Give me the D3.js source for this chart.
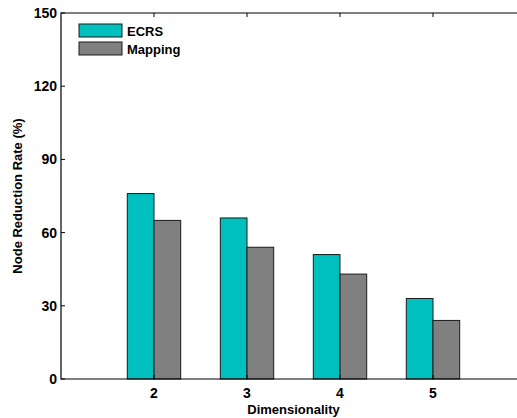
<!DOCTYPE html>
<html>
<head>
<meta charset="utf-8">
<script src="https://cdn.jsdelivr.net/npm/d3@7"></script>
<style>
  body { margin: 0; background: #fff; }
  svg { display: block; font-family: "Liberation Sans", Arial, sans-serif; font-weight: bold; }
</style>
</head>
<body>
<div id="container"></div>
<script>
// chart data
const dims = [2, 3, 4, 5];
const ecrs = [76, 66, 51, 33];
const mapping = [65, 54, 43, 24];
const yTicks = [0, 30, 60, 90, 120, 150];
const seriesNames = ["ECRS", "Mapping"];
const seriesColors = ["#00bfbf", "#808080"];

const width = 517, height = 418;
const plotLeft = 61, plotTop = 13, plotBottom = 379;

const svg = d3.select("#container").append("svg")
    .attr("width", width)
    .attr("height", height);

// x spans 1..6 in data units; the right edge falls outside the window
const x = d3.scaleLinear().domain([1, 6]).range([plotLeft, plotLeft + 5 * 93]);
const y = d3.scaleLinear().domain([0, 150]).range([plotBottom, plotTop]);
const barW = 0.287; // in x units

const series = [ecrs, mapping];

series.forEach((vals, s) => {
  svg.append("g")
    .selectAll("rect")
    .data(vals)
    .join("rect")
      .attr("x", (d, i) => x(dims[i] - barW + s * barW))
      .attr("y", d => y(d))
      .attr("width", x(1 + barW) - x(1))
      .attr("height", d => y(0) - y(d))
      .attr("fill", seriesColors[s])
      .attr("stroke", "#1a1a1a")
      .attr("stroke-width", 1);
});

// axes box
const xMax = x.range()[1];
svg.append("path")
    .attr("d", `M${xMax},${plotTop}H${plotLeft}V${plotBottom}H${xMax}`)
    .attr("fill", "none")
    .attr("stroke", "#000")
    .attr("stroke-width", 1.2);

// y ticks (inside) and labels
const yAxis = svg.append("g");
yAxis.selectAll("line")
  .data(yTicks)
  .join("line")
    .attr("x1", plotLeft).attr("x2", plotLeft + 4)
    .attr("y1", d => y(d)).attr("y2", d => y(d))
    .attr("stroke", "#000");
yAxis.selectAll("text")
  .data(yTicks)
  .join("text")
    .attr("x", plotLeft - 4)
    .attr("y", d => y(d))
    .attr("dy", "0.36em")
    .attr("text-anchor", "end")
    .attr("font-size", 14)
    .text(d => d);

// x ticks on bottom and top, labels
const xAxis = svg.append("g");
xAxis.selectAll("line.b")
  .data(dims)
  .join("line")
    .attr("class", "b")
    .attr("x1", d => x(d)).attr("x2", d => x(d))
    .attr("y1", plotBottom).attr("y2", plotBottom - 4)
    .attr("stroke", "#000");
xAxis.selectAll("line.t")
  .data(dims)
  .join("line")
    .attr("class", "t")
    .attr("x1", d => x(d)).attr("x2", d => x(d))
    .attr("y1", plotTop).attr("y2", plotTop + 4)
    .attr("stroke", "#000");
xAxis.selectAll("text")
  .data(dims)
  .join("text")
    .attr("x", d => x(d))
    .attr("y", plotBottom + 19)
    .attr("text-anchor", "middle")
    .attr("font-size", 14)
    .text(d => d);

// axis titles
svg.append("text")
    .attr("x", (plotLeft + xMax) / 2)
    .attr("y", 414)
    .attr("text-anchor", "middle")
    .attr("font-size", 13)
    .text("Dimensionality");

svg.append("text")
    .attr("transform", `translate(22,${(plotTop + plotBottom) / 2}) rotate(-90)`)
    .attr("text-anchor", "middle")
    .attr("font-size", 13)
    .text("Node Reduction Rate (%)");

// legend
const legend = svg.append("g").attr("transform", "translate(79,24)");
seriesNames.forEach((name, i) => {
  const g = legend.append("g").attr("transform", `translate(0,${i * 18})`);
  g.append("rect")
    .attr("width", 43).attr("height", 13)
    .attr("fill", seriesColors[i])
    .attr("stroke", "#1a1a1a");
  g.append("text")
    .attr("x", 48).attr("y", 7)
    .attr("dy", "0.36em")
    .attr("font-size", 13)
    .text(name);
});
</script>
</body>
</html>
